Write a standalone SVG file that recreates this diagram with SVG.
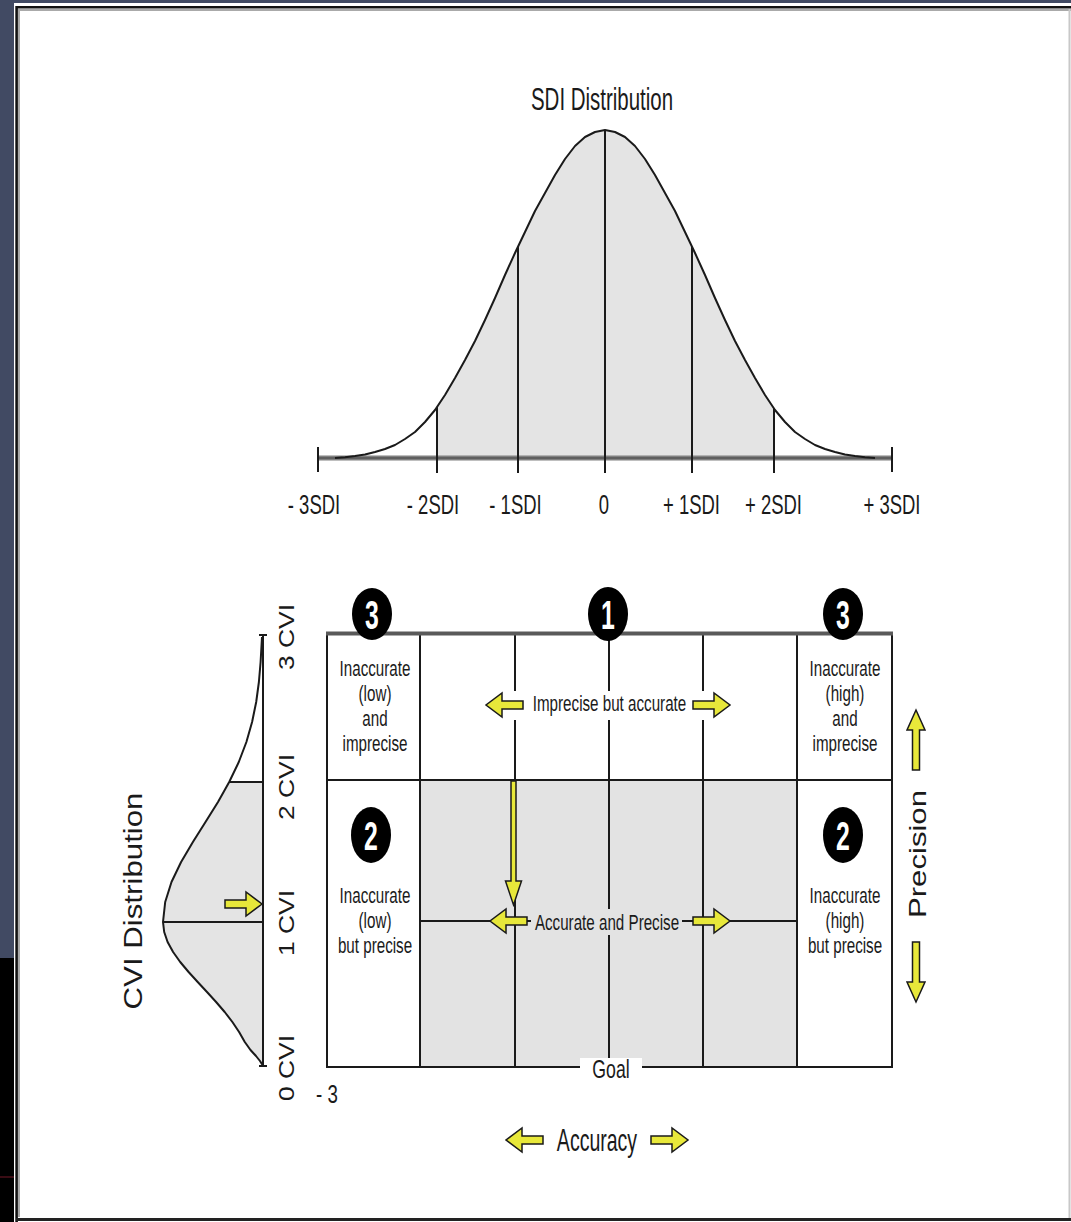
<svg xmlns="http://www.w3.org/2000/svg" xmlns:xlink="http://www.w3.org/1999/xlink" width="1071" height="1222" viewBox="0 0 1071 1222">
<style>
.t{font-family:"Liberation Sans",Arial,sans-serif;fill:#1a1a1a}
.cell{font-size:22px}
.sdi{font-size:28px}
.num{font-family:"Liberation Sans",Arial,sans-serif;font-weight:bold;font-size:40px;fill:#fff}
.ln{stroke:#1a1a1a;stroke-width:2;fill:none}
.arr{fill:#e8e83a;stroke:#1a1a1a;stroke-width:1.5;stroke-linejoin:miter}
.badge{fill:#000}
</style>
<defs>
<path id="ah" d="M0,-4 L21,-4 L21,-12 L37,0 L21,12 L21,4 L0,4 Z"/>
<path id="av" d="M0,-3.5 L40,-3.5 L40,-9 L60,0 L40,9 L40,3.5 L0,3.5 Z"/>
</defs>

<!-- background / frame -->
<g id="frame">
<rect x="0" y="0" width="1071" height="1222" fill="#414a63"/>
<rect x="0" y="958" width="15" height="264" fill="#000"/>
<rect x="0" y="1176" width="15" height="2" fill="#3a0c14"/>
<rect x="14" y="3" width="1057" height="1219" fill="#fff"/>
<line x1="18" y1="10" x2="1071" y2="10" stroke="#aaa" stroke-width="2"/>
<line x1="19" y1="9" x2="19" y2="1217" stroke="#aaa" stroke-width="2"/>
<line x1="16" y1="7.2" x2="1071" y2="7.2" stroke="#111" stroke-width="2.6"/>
<line x1="16.6" y1="6" x2="16.6" y2="1222" stroke="#111" stroke-width="2.6"/>
<line x1="16" y1="1219.5" x2="1071" y2="1219.5" stroke="#222" stroke-width="3"/>
<line x1="1069.5" y1="9" x2="1069.5" y2="1218" stroke="#c8c8c8" stroke-width="2"/>
</g>

<!-- SDI distribution -->
<g id="sdi-distribution">
<polygon fill="#e4e4e4" points="437,458 437,407 445,395 455,378 465,360 475,341 485,320 495,298 505,275 515,253 525,232 535,211 545,193 555,175 565,159 575,146 585,137 595,132 605,130 615,132 625,137 635,146 645,159 655,175 665,193 675,211 685,232 695,253 705,275 715,298 725,320 735,341 745,360 755,378 765,395 774,408 774,458"/>
<line x1="318" y1="458" x2="892" y2="458" stroke="#808080" stroke-width="5"/>
<line x1="318" y1="458" x2="892" y2="458" stroke="#555" stroke-width="1.5"/>
<polyline class="ln" stroke-linejoin="round" points="335,458 345,457.2 355,456 365,454.5 375,452 385,449 395,445 405,439 415,432 425,422 435,410 445,395 455,378 465,360 475,341 485,320 495,298 505,275 515,253 525,232 535,211 545,193 555,175 565,159 575,146 585,137 595,132 605,130 615,132 625,137 635,146 645,159 655,175 665,193 675,211 685,232 695,253 705,275 715,298 725,320 735,341 745,360 755,378 765,395 775,410 785,422 795,432 805,439 815,445 825,449 835,452 845,454.5 855,456 865,457.2 875,458"/>
<line class="ln" x1="318" y1="447" x2="318" y2="472"/>
<line class="ln" x1="892" y1="447" x2="892" y2="472"/>
<line class="ln" x1="437" y1="407" x2="437" y2="473"/>
<line class="ln" x1="518" y1="247" x2="518" y2="473"/>
<line class="ln" x1="605" y1="130" x2="605" y2="473"/>
<line class="ln" x1="692" y1="247" x2="692" y2="473"/>
<line class="ln" x1="774" y1="408" x2="774" y2="473"/>
<text class="t" font-size="31" text-anchor="middle" transform="translate(602,110) scale(0.66,1)">SDI Distribution</text>
<text class="t sdi" text-anchor="middle" transform="translate(314,514) scale(0.66,1)">- 3SDI</text>
<text class="t sdi" text-anchor="middle" transform="translate(433,514) scale(0.66,1)">- 2SDI</text>
<text class="t sdi" text-anchor="middle" transform="translate(515.5,514) scale(0.66,1)">- 1SDI</text>
<text class="t sdi" text-anchor="middle" transform="translate(604,514) scale(0.66,1)">0</text>
<text class="t sdi" text-anchor="middle" transform="translate(691.5,514) scale(0.66,1)">+ 1SDI</text>
<text class="t sdi" text-anchor="middle" transform="translate(773.5,514) scale(0.66,1)">+ 2SDI</text>
<text class="t sdi" text-anchor="middle" transform="translate(892,514) scale(0.66,1)">+ 3SDI</text>
</g>

<!-- CVI distribution -->
<g id="cvi-distribution">
<polygon fill="#e4e4e4" points="229.2,782 218,802 205.5,822 192.9,842 181.1,862 171.5,882 165.2,902 163,922 164.2,932 167.6,942 173.1,952 180.2,962 188.6,972 197.7,982 207,992 216.1,1002 224.7,1012 232.4,1022 239.1,1032 244.8,1042 250.5,1050 256,1056 260,1061 262.5,1065 263,1065 263,782"/>
<polyline class="ln" stroke-linejoin="round" points="262,637 260.6,662 258.9,682 256.2,702 252.1,722 246.4,742 238.8,762 229.2,782 218,802 205.5,822 192.9,842 181.1,862 171.5,882 165.2,902 163,922 164.2,932 167.6,942 173.1,952 180.2,962 188.6,972 197.7,982 207,992 216.1,1002 224.7,1012 232.4,1022 239.1,1032 244.8,1042 250.5,1050 256,1056 260,1061 262.5,1065"/>
<line class="ln" x1="263" y1="635" x2="263" y2="1067"/>
<line class="ln" x1="259" y1="635" x2="267" y2="635"/>
<line class="ln" x1="259" y1="1066" x2="267" y2="1066"/>
<line class="ln" x1="229" y1="782" x2="263" y2="782"/>
<line class="ln" x1="163" y1="922" x2="263" y2="922"/>
<use href="#ah" xlink:href="#ah" class="arr" transform="translate(225,904)"/>
<text class="t" font-size="22" text-anchor="middle" textLength="66" lengthAdjust="spacingAndGlyphs" transform="translate(294,637) rotate(-90)">3 CVI</text>
<text class="t" font-size="22" text-anchor="middle" textLength="66" lengthAdjust="spacingAndGlyphs" transform="translate(294,787) rotate(-90)">2 CVI</text>
<text class="t" font-size="22" text-anchor="middle" textLength="66" lengthAdjust="spacingAndGlyphs" transform="translate(294,923) rotate(-90)">1 CVI</text>
<text class="t" font-size="22" text-anchor="middle" textLength="66" lengthAdjust="spacingAndGlyphs" transform="translate(294,1068) rotate(-90)">0 CVI</text>
<text class="t" font-size="26" text-anchor="middle" textLength="217" lengthAdjust="spacingAndGlyphs" transform="translate(142,901) rotate(-90)">CVI Distribution</text>
<text class="t" font-size="26" transform="translate(316,1103) scale(0.72,1)">- 3</text>
</g>

<!-- Grid -->
<g id="grid">
<rect x="420" y="780" width="377" height="287" fill="#e3e3e3"/>
<line class="ln" x1="327" y1="633" x2="327" y2="1067"/>
<line class="ln" x1="892" y1="633" x2="892" y2="1067"/>
<line class="ln" x1="420" y1="633" x2="420" y2="1067"/>
<line class="ln" x1="515" y1="633" x2="515" y2="1067"/>
<line class="ln" x1="609" y1="633" x2="609" y2="1067"/>
<line class="ln" x1="703" y1="633" x2="703" y2="1067"/>
<line class="ln" x1="797" y1="633" x2="797" y2="1067"/>
<line class="ln" x1="327" y1="780" x2="892" y2="780"/>
<line class="ln" x1="420" y1="921" x2="797" y2="921"/>
<line class="ln" x1="326" y1="1067" x2="893" y2="1067"/>
<line x1="326" y1="633.5" x2="893" y2="633.5" stroke="#5a5a5a" stroke-width="4"/>
<rect x="580" y="1058" width="62" height="18" fill="#fff"/>
<text class="t" font-size="26" text-anchor="middle" transform="translate(611,1078) scale(0.68,1)">Goal</text>
</g>

<g id="badge-3-left">
<ellipse class="badge" cx="372" cy="614" rx="20" ry="26"/>
<text class="num" text-anchor="middle" transform="translate(372,629) scale(0.62,1)">3</text>
</g>
<g id="badge-1">
<ellipse class="badge" cx="608" cy="614" rx="20" ry="27"/>
<text class="num" text-anchor="middle" transform="translate(608,629) scale(0.62,1)">1</text>
</g>
<g id="badge-3-right">
<ellipse class="badge" cx="843" cy="614" rx="20" ry="26"/>
<text class="num" text-anchor="middle" transform="translate(843,629) scale(0.62,1)">3</text>
</g>
<g id="badge-2-left">
<ellipse class="badge" cx="371" cy="835" rx="20" ry="28"/>
<text class="num" text-anchor="middle" transform="translate(371,850) scale(0.62,1)">2</text>
</g>
<g id="badge-2-right">
<ellipse class="badge" cx="843" cy="835" rx="20" ry="28"/>
<text class="num" text-anchor="middle" transform="translate(843,850) scale(0.62,1)">2</text>
</g>

<g id="cell-low-imprecise">
<text class="t cell" text-anchor="middle" transform="translate(375,676) scale(0.69,1)">Inaccurate</text>
<text class="t cell" text-anchor="middle" transform="translate(375,701) scale(0.69,1)">(low)</text>
<text class="t cell" text-anchor="middle" transform="translate(375,726) scale(0.69,1)">and</text>
<text class="t cell" text-anchor="middle" transform="translate(375,751) scale(0.69,1)">imprecise</text>
</g>
<g id="cell-high-imprecise">
<text class="t cell" text-anchor="middle" transform="translate(845,676) scale(0.69,1)">Inaccurate</text>
<text class="t cell" text-anchor="middle" transform="translate(845,701) scale(0.69,1)">(high)</text>
<text class="t cell" text-anchor="middle" transform="translate(845,726) scale(0.69,1)">and</text>
<text class="t cell" text-anchor="middle" transform="translate(845,751) scale(0.69,1)">imprecise</text>
</g>
<g id="cell-low-precise">
<text class="t cell" text-anchor="middle" transform="translate(375,903) scale(0.69,1)">Inaccurate</text>
<text class="t cell" text-anchor="middle" transform="translate(375,928) scale(0.69,1)">(low)</text>
<text class="t cell" text-anchor="middle" transform="translate(375,953) scale(0.69,1)">but precise</text>
</g>
<g id="cell-high-precise">
<text class="t cell" text-anchor="middle" transform="translate(845,903) scale(0.69,1)">Inaccurate</text>
<text class="t cell" text-anchor="middle" transform="translate(845,928) scale(0.69,1)">(high)</text>
<text class="t cell" text-anchor="middle" transform="translate(845,953) scale(0.69,1)">but precise</text>
</g>

<g id="imprecise-accurate">
<rect x="484" y="691" width="250" height="29" fill="#fff"/>
<text class="t cell" text-anchor="middle" transform="translate(609.5,711) scale(0.69,1)">Imprecise but accurate</text>
</g>
<g id="accurate-precise">
<rect x="531" y="909" width="151" height="26" fill="#e3e3e3"/>
<text class="t cell" text-anchor="middle" transform="translate(607,930) scale(0.69,1)">Accurate and Precise</text>
</g>

<g id="connectors">
<use href="#ah" xlink:href="#ah" class="arr" transform="translate(523,705) scale(-1,1)"/>
<use href="#ah" xlink:href="#ah" class="arr" transform="translate(693,705)"/>
<use href="#ah" xlink:href="#ah" class="arr" transform="translate(527,921) scale(-1,1)"/>
<use href="#ah" xlink:href="#ah" class="arr" transform="translate(693,921)"/>
<path class="arr" d="M511,781 L516,781 L516,881 L521.5,881 L513.5,905 L505.5,881 L511,881 Z"/>
<use href="#av" xlink:href="#av" class="arr" transform="translate(916,770) rotate(-90)"/>
<use href="#av" xlink:href="#av" class="arr" transform="translate(916,942) rotate(90)"/>
<use href="#ah" xlink:href="#ah" class="arr" transform="translate(543,1140) scale(-1,1)"/>
<use href="#ah" xlink:href="#ah" class="arr" transform="translate(651,1140)"/>
</g>

<g id="axis-labels">
<text class="t" font-size="24" text-anchor="middle" textLength="128" lengthAdjust="spacingAndGlyphs" transform="translate(926,854) rotate(-90)">Precision</text>
<text class="t" font-size="32" text-anchor="middle" transform="translate(597,1151) scale(0.61,1)">Accuracy</text>
</g>
</svg>
